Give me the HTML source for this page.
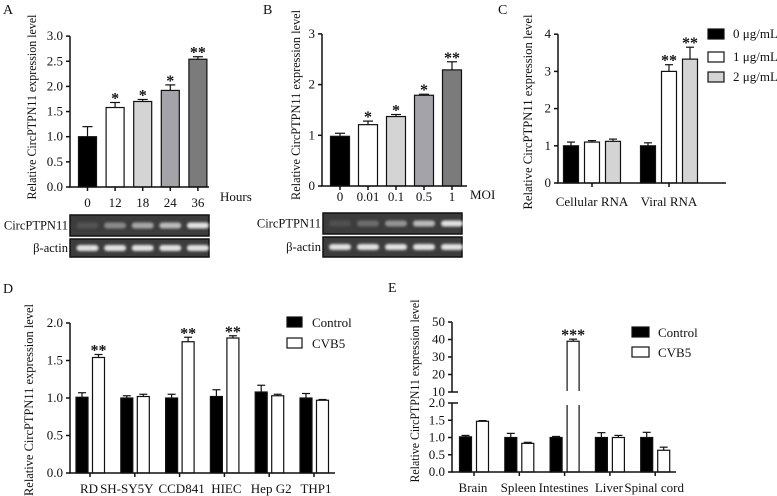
<!DOCTYPE html>
<html><head><meta charset="utf-8"><style>
html,body{margin:0;padding:0;background:#fff;}
svg{display:block;}
svg text{font-family:"Liberation Serif","Times New Roman",serif;}
</style></head><body>
<svg id="fig" width="777" height="496" viewBox="0 0 777 496" xmlns="http://www.w3.org/2000/svg">
<defs><filter id="blur" x="-50%" y="-100%" width="200%" height="300%"><feGaussianBlur stdDeviation="1.3"/></filter></defs>
</svg>
<script>
// ---- Panel A data ----
const aCats=['0','12','18','24','36'];
const aVals=[1.0,1.58,1.70,1.92,2.54];
const aErr=[0.2,0.1,0.04,0.11,0.05];
const aStars=['','*','*','*','**'];
const aTicks=[0,0.5,1.0,1.5,2.0,2.5,3.0];
const aTickLabels=['0.0','0.5','1.0','1.5','2.0','2.5','3.0'];
const aBand=[0.12,0.4,0.55,0.65,0.85];
// ---- Panel B data ----
const bCats=['0','0.01','0.1','0.5','1'];
const bVals=[0.98,1.21,1.37,1.79,2.29];
const bErr=[0.06,0.07,0.04,0.02,0.16];
const bStars=['','*','*','*','**'];
const bTicks=[0,1,2,3];
const bBand=[0.1,0.25,0.45,0.65,0.85];
// ---- Panel C data ----
const cCats=['Cellular RNA','Viral RNA'];
const cSeries=['0 μg/mL','1 μg/mL','2 μg/mL'];
const cVals0=[1.0,1.0];
const cVals1=[1.1,3.0];
const cVals2=[1.12,3.33];
const cErr0=[0.1,0.08];
const cErr1=[0.04,0.18];
const cErr2=[0.06,0.32];
const cStars1=['','**'];
const cStars2=['','**'];
const cTicks=[0,1,2,3,4];
// ---- Panel D data ----
const dCats=['RD','SH-SY5Y','CCD841','HIEC','Hep G2','THP1'];
const dCtrl=[1.01,1.0,1.0,1.02,1.08,1.0];
const dCtrlErr=[0.06,0.03,0.05,0.09,0.09,0.06];
const dCvb=[1.54,1.02,1.75,1.80,1.03,0.97];
const dCvbErr=[0.04,0.03,0.06,0.03,0.02,0.01];
const dStars=['**','','**','**','',''];
const dTicks=[0,0.5,1.0,1.5,2.0];
const dTickLabels=['0.0','0.5','1.0','1.5','2.0'];
// ---- Panel E data ----
const eCats=['Brain','Spleen','Intestines','Liver','Spinal cord'];
const eCtrl=[1.02,1.0,1.0,1.0,1.0];
const eCtrlErr=[0.04,0.12,0.03,0.14,0.15];
const eCvb=[1.47,0.83,39,1.0,0.63];
const eCvbErr=[0.02,0.03,1.2,0.06,0.09];
const eStars=['','','***','',''];
const eLowTicks=[0,0.5,1.0,1.5,2.0];
const eLowLabels=['0.0','0.5','1.0','1.5','2.0'];
const eHighTicks=[10,20,30,40,50];

const NS='http://www.w3.org/2000/svg';
const svg=document.getElementById('fig');
const FONT='"Liberation Serif","Times New Roman",serif';
function mk(tag,attrs,parent){const e=document.createElementNS(NS,tag);for(const k in attrs)e.setAttribute(k,attrs[k]);(parent||svg).appendChild(e);return e;}
function txt(s,x,y,size,anchor,parent){const t=mk('text',{x:x,y:y,'font-size':size,'font-family':FONT,'text-anchor':anchor||'middle',fill:'#111'},parent);t.textContent=s;return t;}
function star(s,x,yTop,parent){const t=mk('text',{x:x,y:yTop+1,'font-size':16,'font-family':FONT,'font-weight':'bold','text-anchor':'middle',fill:'#111'},parent);t.textContent=s;return t;}
function line(x1,y1,x2,y2,w,parent){return mk('line',{x1:x1,y1:y1,x2:x2,y2:y2,stroke:'#111','stroke-width':w||1.5},parent);}
function ytitle(s,x,cy,len,parent){const t=mk('text',{x:0,y:0,'font-size':13,'font-family':FONT,'text-anchor':'middle',fill:'#111',transform:'translate('+x+','+cy+') rotate(-90)',textLength:len,lengthAdjust:'spacingAndGlyphs'},parent);t.textContent=s;return t;}
function bar(x,w,yTop,yBot,fill,parent){return mk('rect',{x:x-w/2,y:yTop,width:w,height:yBot-yTop,fill:fill,stroke:'#111','stroke-width':1.2},parent);}
function err(x,y1,y2,cap,parent){const g=mk('g',{},parent);line(x,y1,x,y2,1.2,g);line(x-cap,y2,x+cap,y2,1.2,g);return g;}

// ================= Panel A =================
const gA=mk('g',{});


const ya=v=>187-v*50.3, xa=i=>87.5+i*27.6;
const aFill=['#000','#fff','#d4d4d4','#a3a3a9','#7b7b7b'];
const lA=txt('A',3,14,14,'start',gA);


aVals.forEach((v,i)=>{
  const b=bar(xa(i),18,ya(v),ya(0),aFill[i],gA);
  
  
  const e=err(xa(i),ya(v),ya(v+aErr[i]),5,gA);
  
  
  if(aStars[i]){const s=star(aStars[i],xa(i),ya(v+aErr[i]),gA);
  
  }
  line(xa(i),187,xa(i),191,1.5,gA);
  const t=txt(aCats[i],xa(i),207,13,'middle',gA);
  
  
});
aTicks.forEach((v,i)=>{line(66,ya(v),70,ya(v),1.5,gA);
  const t=txt(aTickLabels[i],63,ya(v)+4,13,'end',gA);
  
  });
const axA=line(70,ya(3),70,187,1.5,gA);


const axAx=line(69,187,209,187,1.5,gA);


const hA=txt('Hours',220,201,13,'start',gA);


const ytA=ytitle('Relative CircPTPN11 expression level',36,107,185,gA);



function gel(x0,x1,y0,y1,centers,bands,label,parent,name){
  const g=mk('g',{},parent);
  
  
  mk('rect',{x:x0,y:y0,width:x1-x0,height:y1-y0,fill:'#3c3c3c',stroke:'#111','stroke-width':1.5},g);
  centers.forEach((c,i)=>{mk('rect',{x:c-11,y:(y0+y1)/2-3,width:22,height:6,rx:3,fill:'rgba(255,255,255,'+bands[i]+')',filter:'url(#blur)'},g);});
  txt(label,x0-2,(y0+y1)/2+4,12.5,'end',g);
  return g;
}
gel(70,209,215,236,aVals.map((v,i)=>xa(i)),aBand,'CircPTPN11',gA,'gel-circptpn11-a');
gel(70,209,239,257,aVals.map((v,i)=>xa(i)),aBand.map(()=>0.85),'β-actin',gA,'gel-actin-a');

// ================= Panel B =================
const gB=mk('g',{});


const yb=v=>186-v*50.7, xb=i=>340+i*28;
const lB=txt('B',263,14,14,'start',gB);


bVals.forEach((v,i)=>{
  const b=bar(xb(i),19,yb(v),yb(0),aFill[i],gB);
  
  
  const e=err(xb(i),yb(v),yb(v+bErr[i]),5,gB);
  
  
  if(bStars[i]){const s=star(bStars[i],xb(i),yb(v+bErr[i]),gB);
  
  }
  line(xb(i),186,xb(i),190,1.5,gB);
  const t=txt(bCats[i],xb(i),201,13,'middle',gB);
  
  
});
bTicks.forEach(v=>{line(318,yb(v),322,yb(v),1.5,gB);
  const t=txt(String(v),315,yb(v)+4,13,'end',gB);
  
  });
const axB=line(322,yb(3),322,186,1.5,gB);


const axBx=line(321,186,467,186,1.5,gB);


const mB=txt('MOI',470,199,13,'start',gB);


const ytB=ytitle('Relative CircPTPN11 expression level',300,105,190,gB);


gel(323,462,213,234,bVals.map((v,i)=>xb(i)),bBand,'CircPTPN11',gB,'gel-circptpn11-b');
gel(323,462,237,257,bVals.map((v,i)=>xb(i)),bBand.map(()=>0.85),'β-actin',gB,'gel-actin-b');

// ================= Panel C =================
const gC=mk('g',{});


const yc=v=>183-v*37.2, xc=i=>592+i*77;
const cFill=['#000','#fff','#d4d4d4'];
const cOff=[-21,0,21];
const cAllVals=[cVals0,cVals1,cVals2], cAllErr=[cErr0,cErr1,cErr2], cAllStars=[['',''],cStars1,cStars2];
const lC=txt('C',498,14,14,'start',gC);


cCats.forEach((c,i)=>{
  cAllVals.forEach((vals,s)=>{
    const x=xc(i)+cOff[s], v=vals[i];
    const b=bar(x,15,yc(v),yc(0),cFill[s],gC);
    
    
    const e=err(x,yc(v),yc(v+cAllErr[s][i]),4,gC);
    
    
    if(cAllStars[s][i]){const st=star(cAllStars[s][i],x,yc(v+cAllErr[s][i]),gC);
    
    }
  });
  line(xc(i),183,xc(i),187,1.5,gC);
  const t=txt(c,xc(i),206,13,'middle',gC);
  
  
});
cTicks.forEach(v=>{line(554,yc(v),558,yc(v),1.5,gC);
  const t=txt(String(v),551,yc(v)+4,13,'end',gC);
  
  });
const axC=line(558,yc(4),558,183,1.5,gC);


const axCx=line(557,183,726,183,1.5,gC);


const ytC=ytitle('Relative  CircPTPN11 expression level',532,112,195,gC);


const cLegY=[34,57,77];
cSeries.forEach((s,i)=>{
  const g=mk('g',{},gC);
  
  
  mk('rect',{x:708,y:cLegY[i]-5,width:16,height:10,fill:cFill[i],stroke:'#111','stroke-width':1.2},g);
  txt(s,733,cLegY[i]+4,13,'start',g);
});

// ================= Panel D =================
const gD=mk('g',{});


const yd=v=>473-v*75, xd=i=>90+i*44.8;
const lD=txt('D',3,293,14,'start',gD);


dCats.forEach((c,i)=>{
  const x1=xd(i)-8, x2=xd(i)+8.5;
  const b1=bar(x1,12,yd(dCtrl[i]),yd(0),'#000',gD);
  
  
  const e1=err(x1,yd(dCtrl[i]),yd(dCtrl[i]+dCtrlErr[i]),4,gD);
  
  
  const b2=bar(x2,12,yd(dCvb[i]),yd(0),'#fff',gD);
  
  
  const e2=err(x2,yd(dCvb[i]),yd(dCvb[i]+dCvbErr[i]),4,gD);
  
  
  if(dStars[i]){const s=star(dStars[i],x2,yd(dCvb[i]+dCvbErr[i]),gD);
  
  }
  line(xd(i),473,xd(i),477,1.5,gD);
  const t=txt(c,i===0?89:xd(i)+(i===1?-8:2),493,13,'middle',gD);
  
  
});
dTicks.forEach((v,i)=>{line(66,yd(v),70,yd(v),1.5,gD);
  const t=txt(dTickLabels[i],63,yd(v)+4,13,'end',gD);
  
  });
const axD=line(70,yd(2),70,473,1.5,gD);


const axDx=line(69,473,335,473,1.5,gD);


const ytD=ytitle('Relative  CircPTPN11 expression level',33,400,192,gD);


[['Control','#000',322],['CVB5','#fff',343]].forEach((l,i)=>{
  const g=mk('g',{},gD);
  
  
  mk('rect',{x:287,y:l[2]-5,width:15,height:10,fill:l[1],stroke:'#111','stroke-width':1.2},g);
  txt(l[0],312,l[2]+5,13,'start',g);
});

// ================= Panel E =================
const gE=mk('g',{});


const yeL=v=>472-v*34.5, yeH=v=>392-(v-10)*1.75, xe=i=>474+i*45.3;
const ye=v=>v<=2?yeL(v):yeH(Math.max(v,10));
const lE=txt('E',388,292,14,'start',gE);


eCats.forEach((c,i)=>{
  const x1=xe(i)-8.5, x2=xe(i)+8.5;
  const b1=bar(x1,12,ye(eCtrl[i]),yeL(0),'#000',gE);
  
  
  const e1=err(x1,ye(eCtrl[i]),ye(eCtrl[i]+eCtrlErr[i]),4,gE);
  
  
  let b2;
  if(eCvb[i]>2){
    b2=mk('g',{},gE);
    bar(x2,12,yeL(2),yeL(0),'#fff',b2);
    mk('rect',{x:x2-7,y:yeL(2)-1,width:14,height:3,fill:'#fff'},b2);
    bar(x2,12,yeH(eCvb[i]),yeH(10),'#fff',b2);
    mk('rect',{x:x2-7,y:yeH(10)-1,width:14,height:3,fill:'#fff'},b2);
  } else b2=bar(x2,12,ye(eCvb[i]),yeL(0),'#fff',gE);
  
  
  const e2=err(x2,ye(eCvb[i]),ye(eCvb[i]+eCvbErr[i]),4,gE);
  
  
  if(eStars[i]){const s=star(eStars[i],x2,ye(eCvb[i]+eCvbErr[i]),gE);
  
  }
  line(xe(i),472,xe(i),476,1.5,gE);
  const t=txt(c,xe(i)-1,492,13,'middle',gE);
  
  
});
eLowTicks.forEach((v,i)=>{line(448,yeL(v),452,yeL(v),1.5,gE);
  const t=txt(eLowLabels[i],445,yeL(v)+4,13,'end',gE);
  
  });
eHighTicks.forEach(v=>{line(448,yeH(v),452,yeH(v),1.5,gE);
  const t=txt(String(v),445,yeH(v)+4,13,'end',gE);
  
  });
line(452,yeH(10),458,yeH(10),1.5,gE);
line(452,yeL(2),458,yeL(2),1.5,gE);
const axE1=line(452,yeL(2),452,472,1.5,gE);


const axE2=line(452,yeH(50),452,yeH(10),1.5,gE);


const axEx=line(451,472,676,472,1.5,gE);


const ytE=ytitle('Relative  CircPTPN11 expression level',419,391,183,gE);


[['Control','#000',332],['CVB5','#fff',352]].forEach((l,i)=>{
  const g=mk('g',{},gE);
  
  
  mk('rect',{x:632,y:l[2]-5,width:17,height:10,fill:l[1],stroke:'#111','stroke-width':1.2},g);
  txt(l[0],658,l[2]+5,13,'start',g);
});
</script>
</body></html>
